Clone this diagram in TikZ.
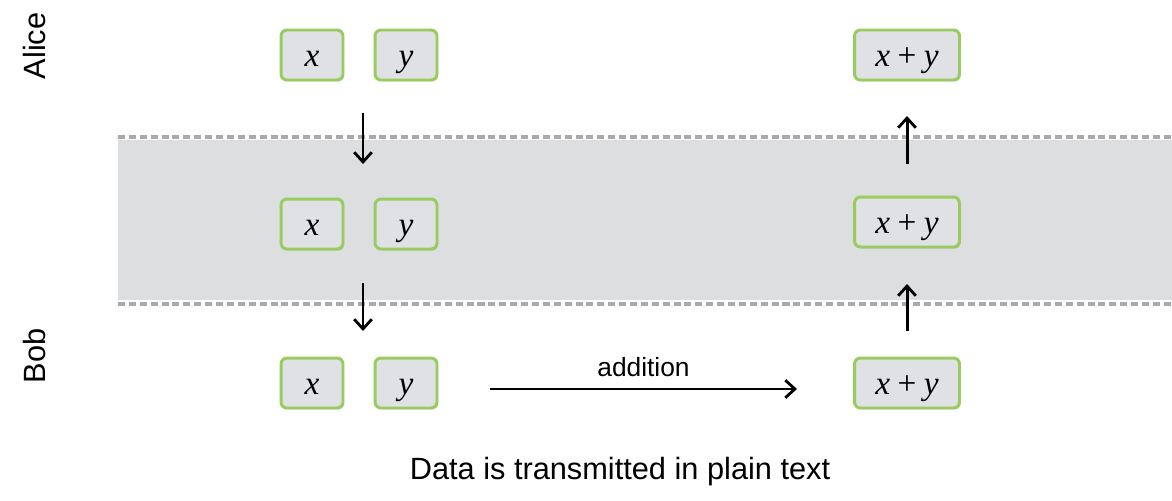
\documentclass[tikz,border=0pt]{standalone}
\usepackage{fontspec}
\setmainfont{Liberation Sans}
\newfontfamily\valfont{Liberation Serif}
\usetikzlibrary{positioning}
\usetikzlibrary{arrows.meta}
\usetikzlibrary{shadows}
\definecolor{boxgreen}{RGB}{152,204,94}
\definecolor{boxgray}{RGB}{224,225,228}
\definecolor{bandgray}{RGB}{221,222,224}
\definecolor{sepgray}{RGB}{168,169,173}
\newcommand{\sumxy}{\textit{x}\hspace{0.22em}+\hspace{0.22em}\textit{y}}
\tikzset{
    val/.style = {rectangle, rounded corners=0.12cm, line width=1.7pt, draw=boxgreen, fill=boxgray,
                  minimum width=1.24cm, minimum height=1.0cm, inner sep=0pt,
                  text height=13.5pt, text depth=0pt,
                  font=\valfont\fontsize{19}{19}\selectfont,
                  drop shadow={shadow xshift=0.6pt, shadow yshift=-0.8pt, opacity=0.25, fill=black}},
    valw/.style = {val, minimum width=2.1cm},
    edgen/.style = {-{Straight Barb[length=5.5pt,width=10pt,line width=1.6pt]}, line width=1.7pt},
    sepline/.style = {line width=1.8pt, draw=sepgray, dash pattern=on 4pt off 2.2pt},
    who/.style = {rotate=90, font=\fontsize{17.5}{17.5}\selectfont},
}

\begin{document}
\begin{tikzpicture}[x=0.02cm,y=-0.02cm]
\useasboundingbox (0,0) rectangle (1172,500);
%
\fill[bandgray] (118,140) rectangle (1172,300);
\draw[sepline] (118,137) -- (1172,137);
\draw[sepline] (118,304) -- (1172,304);
%
\node[who] at (35,46) (alice) {Alice};
\node[who] at (35,356) (bob) {Bob};
%
\node[val] at (312,55) (x1) {\textit{x}};
\node[val] at (406,55) (y1) {\textit{y}};
\node[valw] at (907,55) (s1) {\sumxy};
\node[val] at (312,224) (x2) {\textit{x}};
\node[val] at (406,224) (y2) {\textit{y}};
\node[valw] at (907,222) (s2) {\sumxy};
\node[val] at (312,383) (x3) {\textit{x}};
\node[val] at (406,383) (y3) {\textit{y}};
\node[valw] at (907,383) (s3) {\sumxy};
%
\coordinate (d1a) at (363,113);
\coordinate (d1b) at (363,164);
\coordinate (d2a) at (363,283);
\coordinate (d2b) at (363,331);
\coordinate (u1a) at (907,164);
\coordinate (u1b) at (907,116);
\coordinate (u2a) at (907,331);
\coordinate (u2b) at (907,284);
\coordinate (adda) at (490,389);
\coordinate (addb) at (797,389);
%
\draw[edgen] (d1a) -- (d1b);
\draw[edgen] (d2a) -- (d2b);
\draw[edgen] (u1a) -- (u1b);
\draw[edgen] (u2a) -- (u2b);
\draw[edgen] (adda) -- node[above=3pt, font=\fontsize{15}{15}\selectfont] (addl) {addition} (addb);
%
\node[font=\fontsize{17.5}{17.5}\selectfont] at (620,472) (note) {Data is transmitted in plain text};
\end{tikzpicture}
\end{document}
